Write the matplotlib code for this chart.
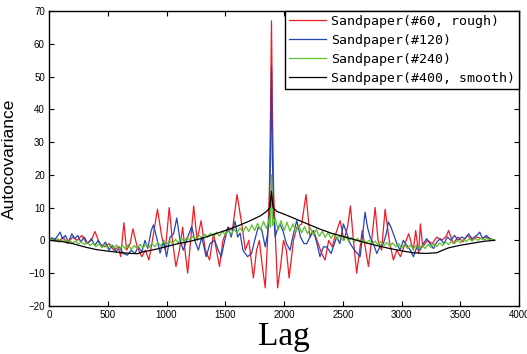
import matplotlib
matplotlib.use('Agg')
import matplotlib.pyplot as plt

# turning points (lag, autocovariance)
red_lag = [0, 40, 80, 120, 160, 200, 240, 280, 320, 360, 391, 430, 470, 510, 550,
           590, 610, 637, 660, 690, 714, 750, 790, 820, 850, 880, 923, 960, 990,
           1023, 1050, 1080, 1110, 1137, 1160, 1180, 1205, 1231, 1260, 1294, 1330,
           1366, 1400, 1430, 1451, 1480, 1523, 1560, 1600, 1640, 1670, 1700, 1739,
           1766, 1790, 1815, 1840, 1862, 1875, 1885, 1893, 1901, 1911, 1925, 1945,
           1970, 1995, 2020, 2043, 2080, 2110, 2150, 2187, 2221, 2250, 2280, 2320,
           2349, 2380, 2410, 2440, 2477, 2510, 2540, 2565, 2590, 2618, 2640, 2665,
           2690, 2718, 2745, 2775, 2800, 2830, 2860, 2895, 2930, 2960, 2990, 3020,
           3060, 3100, 3120, 3145, 3160, 3180, 3220, 3260, 3300, 3340, 3380, 3400,
           3440, 3480, 3520, 3560, 3600, 3640, 3680, 3720, 3760, 3790]
red_val = [0, 0.5, -0.5, 1, -1, 1, 0, 1.5, -1, 0, 2.7, -1, -2, -1, -3,
           -2, -5, 5.4, -3, -1, 3.5, -2, -5, -3, -6, 0, 9.5, 1, -3,
           10, 0, -8, -3, 4, -4, -10, 0, 10.5, 0, 6, -3,
           -6, 2, -4, -8, 0, 4, 3, 14, 5, -3, 0, -11.5,
           -3, 0, -8, -14.5, 2, 15, 40, 67, 40, 15, 2, -14.5,
           -8, 0, -3, -11.5, 0, 4, 5, 14, 1, 3, 0, -4,
           -6, 0, -2, 2, 6, 0, 4, 10.5, 0, -10, -4, 3,
           -2, -8, 0, 10, 0, -3, 9.5, 0, -6, -3, -5, -2,
           2, -3, 3, -4, 5, -2, 0, -1, 1, 0, 1.2, 3,
           -1, 1, -0.5, 1.5, 0, 1, 0.5, 1, 0.5, 0]

blue_lag = [0, 25, 50, 75, 94, 115, 140, 165, 194, 220, 245, 270, 300, 330, 360,
            390, 420, 450, 480, 510, 540, 570, 600, 630, 666, 700, 730, 760, 790,
            817, 840, 870, 889, 915, 945, 975, 1000, 1030, 1060, 1087, 1115, 1143,
            1180, 1214, 1240, 1271, 1300, 1337, 1370, 1409, 1440, 1466, 1495, 1523,
            1550, 1583, 1605, 1626, 1650, 1690, 1723, 1750, 1780, 1810, 1840, 1860,
            1875, 1885, 1893, 1901, 1911, 1925, 1940, 1966, 1994, 2020, 2051, 2080,
            2108, 2140, 2170, 2193, 2220, 2250, 2280, 2306, 2335, 2363, 2400, 2448,
            2475, 2505, 2535, 2562, 2600, 2647, 2670, 2689, 2710, 2732, 2760, 2789,
            2815, 2845, 2870, 2888, 2910, 2930, 2960, 2987, 3015, 3044, 3075, 3101,
            3130, 3157, 3185, 3214, 3240, 3271, 3300, 3330, 3360, 3390, 3420, 3450,
            3480, 3510, 3540, 3570, 3600, 3640, 3665, 3690, 3720, 3750, 3790]
blue_val = [0, 0.8, 0.2, 1.5, 2.5, 0.5, 1.5, -0.5, 2, 0.5, 1.5, -0.5, 1, -1, 0.5,
            -1.5, 0, -2, -0.5, -3, -1.5, -3.5, -2, -4, -4.5, -3, -4, -2, -3.5,
            0, -2.5, 3, 4.7, 1, -3.9, 0, -5, 1, 2, 6.8, 0, -3,
            1, 4.2, 0, -3, 1, -5, -1, 0, -3, -5, 0, 4,
            1, 5.8, 1, 2.2, -3, -5, -4, 0, 4, 3.2, -2, 2,
            8, 25, 53, 25, 8, 1, 3, 5, 2.5, -1, -3, 2,
            6, 1, -1, -1, 1, 3, -1, -5, -2, -2, -4, 1,
            -1, 5, 2, -1, -3, -5, 2, 8.6, 4, 1, -1, -4,
            -2, -1, 2, 5.6, 4, 2, -1, -3, 0, -1.5, -3, -5,
            -2, -3, -1, 0.5, -1, -2.5, -0.5, 0.5, -1, 1, 0, 1.5,
            0, 1, 0.5, 2, 0.5, 1.5, 2.5, 0.5, 1.5, 0.5, 0]

# green is sampled on a 25-lag grid either side of the central spike
green_lag = list(range(0, 1876, 25)) + [1884, 1893, 1902] + list(range(1925, 3801, 25))
green_val = [0, 0.4, -0.3, 0.5, -0.5, 0.2, -0.7, 0, -0.9, -0.2, -1.1, -0.4, -1.3,
             -0.6, -1.6, -0.8, -1.9, -1.0, -2.2, -1.2, -2.4, -1.3, -2.5, -1.4, -2.7,
             -1.5, -2.6, -1.3, -2.8, -1.6, -2.5, -1.2, -2.4, -1.0, -2.2, -0.9, -2.0,
             -0.6, -1.7, -0.3, -1.4, 0.0, -1.0, 0.3, -0.7, 0.6, -0.4, 1.0, 0.0,
             1.3, 0.3, 1.6, 0.6, 1.9, 0.9, 2.2, 1.1, 2.5, 1.3, 2.8, 1.6,
             3.0, 1.9, 3.4, 2.2, 3.8, 2.5, 4.2, 2.7, 4.7, 3.0, 5.2, 3.2, 5.8, 3.6, 6.5,
             4.0, 20, 4.5,
             6.8, 3.2, 6.0, 3.0, 5.5, 2.8, 5.0, 2.6, 4.6, 2.3, 4.2, 2.0, 3.8, 1.6, 3.3,
             1.2, 2.8, 0.9, 2.4, 0.6, 2.0, 0.3, 1.6, 0.0, 1.2, -0.3, 0.9, -0.5, 0.6,
             -0.7, 0.3, -0.9, 0.1, -1.2, -0.2, -1.4, -0.4, -1.6, -0.6,
             -1.8, -0.8, -2.0, -1.0, -2.3, -1.2, -2.5, -1.4, -2.7, -1.5, -2.6, -1.4,
             -2.5, -1.2, -2.2, -1.0, -1.9, -0.8, -1.6, -0.5, -1.3, -0.3, -1.0, 0.0,
             -0.7, 0.3, -0.4, 0.5, -0.2, 0.6, 0.0, 0.7, 0.1, 0.5, 0.2, 0.3, 0.0]

black_lag = [0, 100, 200, 300, 400, 500, 600, 700, 750, 800, 900, 1000, 1100, 1200,
             1300, 1400, 1500, 1600, 1700, 1800, 1850, 1880, 1893, 1906, 1940, 2000,
             2100, 2200, 2300, 2400, 2500, 2600, 2700, 2800, 2900, 3000, 3100, 3200,
             3300, 3350, 3400, 3500, 3600, 3700, 3790]
black_val = [0, -0.3, -1.0, -2.0, -2.8, -3.3, -3.7, -4.0, -4.1, -3.5, -2.8, -1.9,
             -1.0, -0.3, 0.6, 1.8, 3.0, 4.3, 5.8, 7.5, 8.8, 10, 15, 10, 8.8, 8.0,
             6.5, 5.0, 3.5, 2.2, 1.2, 0.2, -0.8, -1.7, -2.5, -3.2, -3.8, -4.0,
             -3.8, -3.0, -2.3, -1.5, -0.9, -0.3, 0.0]

labels = ['Sandpaper(#60, rough)', 'Sandpaper(#120)', 'Sandpaper(#240)',
          'Sandpaper(#400, smooth)']
colors = ['#ee1c24', '#2344b4', '#5cc22e', '#000000']

tick_font = ['Liberation Sans Narrow', 'Liberation Sans']

fig = plt.figure(figsize=(5.27, 3.54), dpi=100, facecolor='white')
ax = fig.add_axes([0.093, 0.136, 0.892, 0.833])

series = [(red_lag, red_val), (blue_lag, blue_val),
          (green_lag, green_val), (black_lag, black_val)]
for (xs, ys), c, lbl in zip(series, colors, labels):
    ax.plot(xs, ys, color=c, lw=0.9, label=lbl)

ax.set_xlim(0, 4000)
ax.set_ylim(-20, 70)
ax.set_xticks(range(0, 4001, 500))
ax.set_yticks(range(-20, 71, 10))
ax.tick_params(direction='in', top=True, right=True, length=3.5, width=0.8,
               labelsize=7, pad=3)
for t in ax.get_xticklabels() + ax.get_yticklabels():
    t.set_family(tick_font)
for sp in ax.spines.values():
    sp.set_linewidth(1.0)

ax.set_ylabel('Autocovariance', family='Liberation Sans', fontsize=12.5, labelpad=8)
ax.set_xlabel('Lag', family='Liberation Serif', fontsize=24, labelpad=1)

leg = ax.legend(loc='upper right', borderaxespad=0, fancybox=False,
                edgecolor='black', framealpha=1,
                prop={'family': 'DejaVu Sans Mono', 'size': 9.5},
                handlelength=2.8, handletextpad=0.4, labelspacing=0.45,
                borderpad=0.3)
leg.get_frame().set_linewidth(1.0)

fig.savefig('out.png', dpi=100)
